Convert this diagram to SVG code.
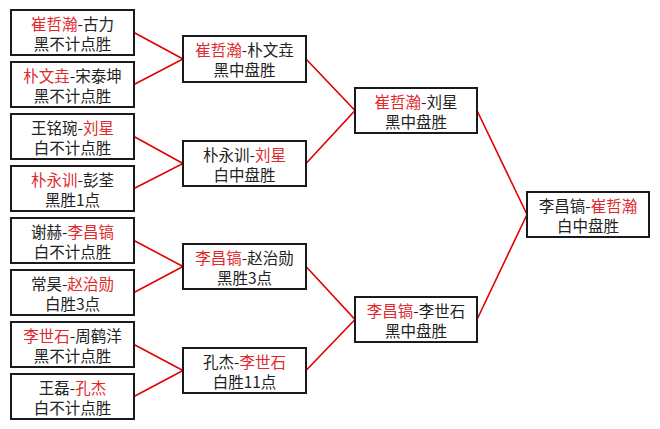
<svg xmlns="http://www.w3.org/2000/svg" width="660" height="429" viewBox="0 0 660 429">
<style>
.box{fill:#fff;stroke:#1a1a1a;stroke-width:2}
.t{font-family:"Noto Sans CJK SC","Noto Sans",sans-serif;font-size:15.5px;fill:#222;text-anchor:middle}
.r{fill:#e0282e}
.ln{stroke:#e00000;stroke-width:1.6;fill:none}
</style>
<rect width="660" height="429" fill="#fff"/>
<g id="connectors">
<polyline class="ln" points="134,32.5 183,59 134,84.5"/>
<polyline class="ln" points="134,136.5 183,163.5 134,188.5"/>
<polyline class="ln" points="134,240.5 183,266.5 134,292.5"/>
<polyline class="ln" points="134,344.5 183,370.5 134,396.5"/>
<polyline class="ln" points="306,59 355,110.5 306,163.5"/>
<polyline class="ln" points="306,266.5 355,319.5 306,370.5"/>
<polyline class="ln" points="477,110.5 527,214.5 477,319.5"/>
</g>
<g id="n1"><rect class="box" x="11" y="10" width="123" height="45"/><text class="t" x="72.5" y="29.5"><tspan class="r">崔哲瀚</tspan>-古力</text><text class="t" x="72.5" y="49.5">黑不计点胜</text></g>
<g id="n2"><rect class="box" x="11" y="62" width="123" height="45"/><text class="t" x="72.5" y="81.5"><tspan class="r">朴文垚</tspan>-宋泰坤</text><text class="t" x="72.5" y="101.5">黑不计点胜</text></g>
<g id="n3"><rect class="box" x="11" y="114" width="123" height="45"/><text class="t" x="72.5" y="133.5">王铭琬-<tspan class="r">刘星</tspan></text><text class="t" x="72.5" y="153.5">白不计点胜</text></g>
<g id="n4"><rect class="box" x="11" y="166" width="123" height="45"/><text class="t" x="72.5" y="185.5"><tspan class="r">朴永训</tspan>-彭荃</text><text class="t" x="72.5" y="205.5">黑胜1点</text></g>
<g id="n5"><rect class="box" x="11" y="218" width="123" height="45"/><text class="t" x="72.5" y="237.5">谢赫-<tspan class="r">李昌镐</tspan></text><text class="t" x="72.5" y="257.5">白不计点胜</text></g>
<g id="n6"><rect class="box" x="11" y="270" width="123" height="45"/><text class="t" x="72.5" y="289.5">常昊-<tspan class="r">赵治勋</tspan></text><text class="t" x="72.5" y="309.5">白胜3点</text></g>
<g id="n7"><rect class="box" x="11" y="322" width="123" height="45"/><text class="t" x="72.5" y="341.5"><tspan class="r">李世石</tspan>-周鹤洋</text><text class="t" x="72.5" y="361.5">黑不计点胜</text></g>
<g id="n8"><rect class="box" x="11" y="374" width="123" height="45"/><text class="t" x="72.5" y="393.5">王磊-<tspan class="r">孔杰</tspan></text><text class="t" x="72.5" y="413.5">白不计点胜</text></g>
<g id="q1"><rect class="box" x="183" y="36" width="123" height="46"/><text class="t" x="244.5" y="55.5"><tspan class="r">崔哲瀚</tspan>-朴文垚</text><text class="t" x="244.5" y="75.5">黑中盘胜</text></g>
<g id="q2"><rect class="box" x="183" y="141" width="123" height="45"/><text class="t" x="244.5" y="160.5">朴永训-<tspan class="r">刘星</tspan></text><text class="t" x="244.5" y="180.5">白中盘胜</text></g>
<g id="q3"><rect class="box" x="183" y="244" width="123" height="45"/><text class="t" x="244.5" y="263.5"><tspan class="r">李昌镐</tspan>-赵治勋</text><text class="t" x="244.5" y="283.5">黑胜3点</text></g>
<g id="q4"><rect class="box" x="183" y="348" width="123" height="45"/><text class="t" x="244.5" y="367.5">孔杰-<tspan class="r">李世石</tspan></text><text class="t" x="244.5" y="387.5">白胜11点</text></g>
<g id="s1"><rect class="box" x="355" y="88" width="122" height="45"/><text class="t" x="416" y="107.5"><tspan class="r">崔哲瀚</tspan>-刘星</text><text class="t" x="416" y="127.5">黑中盘胜</text></g>
<g id="s2"><rect class="box" x="355" y="297" width="122" height="45"/><text class="t" x="416" y="316.5"><tspan class="r">李昌镐</tspan>-李世石</text><text class="t" x="416" y="336.5">黑中盘胜</text></g>
<g id="f"><rect class="box" x="527" y="192" width="122" height="45"/><text class="t" x="588" y="211.5">李昌镐-<tspan class="r">崔哲瀚</tspan></text><text class="t" x="588" y="231.5">白中盘胜</text></g>
</svg>
